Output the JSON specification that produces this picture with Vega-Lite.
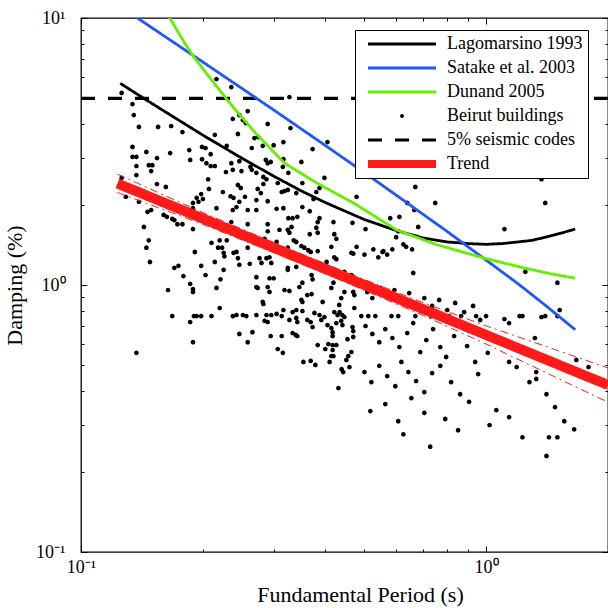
{
"$schema":"https://vega.github.io/schema/vega-lite/v6.json",
"width":527,"height":534,
"autosize":{"type":"none"},
"padding":{"left":81,"top":18,"right":0,"bottom":56},
"background":"white",
"config":{
 "view":{"stroke":"black","strokeWidth":1.3},
 "axis":{"domain":false,"grid":false,"tickColor":"black","tickWidth":1,"labelFont":"Liberation Serif","labelFontSize":18,"labelColor":"black","titleFont":"Liberation Serif","titleFontSize":22,"titleFontWeight":"normal","titleColor":"black","labelFlush":false,"labelOverlap":false},
 "legend":{"fillColor":"white","strokeColor":"black","padding":5,"labelFont":"Liberation Serif","labelFontSize":18,"labelColor":"black","symbolSize":64,"symbolStrokeWidth":3,"symbolOffset":33,"labelOffset":36,"rowPadding":6,"symbolFillColor":"black","labelLimit":400}
},
"datasets":{
 "dashed":[{"T":0.1,"D":5,"series":"5% seismic codes"},{"T":2,"D":5,"series":"5% seismic codes"}],
 "curves":[
  {"T":0.125,"D":5.69,"series":"Lagomarsino 1993"},{"T":0.14,"D":5.10,"series":"Lagomarsino 1993"},{"T":0.16,"D":4.49,"series":"Lagomarsino 1993"},{"T":0.18,"D":4.02,"series":"Lagomarsino 1993"},{"T":0.2,"D":3.64,"series":"Lagomarsino 1993"},{"T":0.25,"D":2.98,"series":"Lagomarsino 1993"},{"T":0.3,"D":2.55,"series":"Lagomarsino 1993"},{"T":0.35,"D":2.25,"series":"Lagomarsino 1993"},{"T":0.4,"D":2.04,"series":"Lagomarsino 1993"},{"T":0.5,"D":1.76,"series":"Lagomarsino 1993"},{"T":0.6,"D":1.60,"series":"Lagomarsino 1993"},{"T":0.7,"D":1.50,"series":"Lagomarsino 1993"},{"T":0.8,"D":1.45,"series":"Lagomarsino 1993"},{"T":0.9,"D":1.43,"series":"Lagomarsino 1993"},{"T":1.0,"D":1.42,"series":"Lagomarsino 1993"},{"T":1.1,"D":1.43,"series":"Lagomarsino 1993"},{"T":1.2,"D":1.45,"series":"Lagomarsino 1993"},{"T":1.3,"D":1.47,"series":"Lagomarsino 1993"},{"T":1.4,"D":1.51,"series":"Lagomarsino 1993"},{"T":1.5,"D":1.55,"series":"Lagomarsino 1993"},{"T":1.66,"D":1.62,"series":"Lagomarsino 1993"},
  {"T":0.137,"D":10.06,"series":"Satake et al. 2003"},{"T":0.15,"D":9.17,"series":"Satake et al. 2003"},{"T":0.2,"D":6.84,"series":"Satake et al. 2003"},{"T":0.25,"D":5.44,"series":"Satake et al. 2003"},{"T":0.3,"D":4.51,"series":"Satake et al. 2003"},{"T":0.4,"D":3.34,"series":"Satake et al. 2003"},{"T":0.5,"D":2.64,"series":"Satake et al. 2003"},{"T":0.6,"D":2.17,"series":"Satake et al. 2003"},{"T":0.8,"D":1.59,"series":"Satake et al. 2003"},{"T":1.0,"D":1.24,"series":"Satake et al. 2003"},{"T":1.2,"D":1.01,"series":"Satake et al. 2003"},{"T":1.4,"D":0.84,"series":"Satake et al. 2003"},{"T":1.66,"D":0.68,"series":"Satake et al. 2003"},
  {"T":0.164,"D":10.25,"series":"Dunand 2005"},{"T":0.18,"D":8.09,"series":"Dunand 2005"},{"T":0.19,"D":7.14,"series":"Dunand 2005"},{"T":0.21,"D":5.86,"series":"Dunand 2005"},{"T":0.237,"D":4.65,"series":"Dunand 2005"},{"T":0.27,"D":3.70,"series":"Dunand 2005"},{"T":0.318,"D":2.86,"series":"Dunand 2005"},{"T":0.38,"D":2.42,"series":"Dunand 2005"},{"T":0.473,"D":2.02,"series":"Dunand 2005"},{"T":0.6,"D":1.61,"series":"Dunand 2005"},{"T":0.75,"D":1.42,"series":"Dunand 2005"},{"T":0.99,"D":1.26,"series":"Dunand 2005"},{"T":1.25,"D":1.155,"series":"Dunand 2005"},{"T":1.45,"D":1.10,"series":"Dunand 2005"},{"T":1.66,"D":1.06,"series":"Dunand 2005"}
 ],
 "trend":[{"T":0.123,"D":2.40,"series":"Trend"},{"T":2.0,"D":0.422,"series":"Trend"}],
 "bands":[
  {"T":0.123,"D":2.60,"band":"upper"},{"T":0.2,"D":1.867,"band":"upper"},{"T":0.3,"D":1.440,"band":"upper"},{"T":0.45,"D":1.118,"band":"upper"},{"T":0.7,"D":0.858,"band":"upper"},{"T":1.0,"D":0.703,"band":"upper"},{"T":1.4,"D":0.590,"band":"upper"},{"T":2.0,"D":0.489,"band":"upper"},
  {"T":0.123,"D":2.22,"band":"lower"},{"T":0.2,"D":1.688,"band":"lower"},{"T":0.3,"D":1.319,"band":"lower"},{"T":0.45,"D":1.024,"band":"lower"},{"T":0.7,"D":0.768,"band":"lower"},{"T":1.0,"D":0.601,"band":"lower"},{"T":1.4,"D":0.471,"band":"lower"},{"T":2.0,"D":0.364,"band":"lower"}
 ],
 "points":[
{"T":0.126,"D":5.24,"series":"Beirut buildings"},{"T":0.134,"D":4.76,"series":"Beirut buildings"},{"T":0.135,"D":4.33,"series":"Beirut buildings"},{"T":0.139,"D":3.91,"series":"Beirut buildings"},{"T":0.155,"D":3.91,"series":"Beirut buildings"},{"T":0.167,"D":3.94,"series":"Beirut buildings"},{"T":0.178,"D":3.74,"series":"Beirut buildings"},{"T":0.214,"D":3.65,"series":"Beirut buildings"},{"T":0.237,"D":4.19,"series":"Beirut buildings"},{"T":0.134,"D":3.29,"series":"Beirut buildings"},
{"T":0.145,"D":3.15,"series":"Beirut buildings"},{"T":0.166,"D":3.12,"series":"Beirut buildings"},{"T":0.185,"D":3.20,"series":"Beirut buildings"},{"T":0.186,"D":2.94,"series":"Beirut buildings"},{"T":0.199,"D":3.29,"series":"Beirut buildings"},{"T":0.203,"D":3.26,"series":"Beirut buildings"},{"T":0.209,"D":3.09,"series":"Beirut buildings"},{"T":0.229,"D":3.32,"series":"Beirut buildings"},{"T":0.134,"D":3.02,"series":"Beirut buildings"},{"T":0.137,"D":3.02,"series":"Beirut buildings"},
{"T":0.154,"D":2.99,"series":"Beirut buildings"},{"T":0.199,"D":2.96,"series":"Beirut buildings"},{"T":0.204,"D":2.86,"series":"Beirut buildings"},{"T":0.209,"D":2.79,"series":"Beirut buildings"},{"T":0.214,"D":2.79,"series":"Beirut buildings"},{"T":0.235,"D":2.86,"series":"Beirut buildings"},{"T":0.137,"D":2.79,"series":"Beirut buildings"},{"T":0.147,"D":2.81,"series":"Beirut buildings"},{"T":0.150,"D":2.81,"series":"Beirut buildings"},{"T":0.149,"D":2.67,"series":"Beirut buildings"},
{"T":0.228,"D":2.65,"series":"Beirut buildings"},{"T":0.237,"D":2.70,"series":"Beirut buildings"},{"T":0.137,"D":2.58,"series":"Beirut buildings"},{"T":0.126,"D":2.52,"series":"Beirut buildings"},{"T":0.206,"D":2.49,"series":"Beirut buildings"},{"T":0.154,"D":2.39,"series":"Beirut buildings"},{"T":0.162,"D":2.33,"series":"Beirut buildings"},{"T":0.207,"D":2.29,"series":"Beirut buildings"},{"T":0.224,"D":2.23,"series":"Beirut buildings"},{"T":0.234,"D":2.15,"series":"Beirut buildings"},
{"T":0.238,"D":2.12,"series":"Beirut buildings"},{"T":0.198,"D":2.19,"series":"Beirut buildings"},{"T":0.193,"D":2.12,"series":"Beirut buildings"},{"T":0.200,"D":2.10,"series":"Beirut buildings"},{"T":0.195,"D":2.05,"series":"Beirut buildings"},{"T":0.129,"D":2.14,"series":"Beirut buildings"},{"T":0.139,"D":2.05,"series":"Beirut buildings"},{"T":0.189,"D":2.03,"series":"Beirut buildings"},{"T":0.146,"D":1.88,"series":"Beirut buildings"},{"T":0.149,"D":1.91,"series":"Beirut buildings"},
{"T":0.160,"D":1.83,"series":"Beirut buildings"},{"T":0.163,"D":1.80,"series":"Beirut buildings"},{"T":0.168,"D":1.77,"series":"Beirut buildings"},{"T":0.170,"D":1.75,"series":"Beirut buildings"},{"T":0.173,"D":1.69,"series":"Beirut buildings"},{"T":0.178,"D":1.69,"series":"Beirut buildings"},{"T":0.189,"D":1.94,"series":"Beirut buildings"},{"T":0.189,"D":1.62,"series":"Beirut buildings"},{"T":0.216,"D":1.94,"series":"Beirut buildings"},{"T":0.237,"D":1.91,"series":"Beirut buildings"},
{"T":0.235,"D":1.72,"series":"Beirut buildings"},{"T":0.143,"D":1.65,"series":"Beirut buildings"},{"T":0.147,"D":1.47,"series":"Beirut buildings"},{"T":0.145,"D":1.38,"series":"Beirut buildings"},{"T":0.148,"D":1.22,"series":"Beirut buildings"},{"T":0.210,"D":1.44,"series":"Beirut buildings"},{"T":0.220,"D":1.47,"series":"Beirut buildings"},{"T":0.229,"D":1.47,"series":"Beirut buildings"},{"T":0.218,"D":1.38,"series":"Beirut buildings"},{"T":0.223,"D":1.38,"series":"Beirut buildings"},
{"T":0.225,"D":1.32,"series":"Beirut buildings"},{"T":0.226,"D":1.28,"series":"Beirut buildings"},{"T":0.238,"D":1.32,"series":"Beirut buildings"},{"T":0.191,"D":1.33,"series":"Beirut buildings"},{"T":0.170,"D":1.16,"series":"Beirut buildings"},{"T":0.174,"D":1.18,"series":"Beirut buildings"},{"T":0.198,"D":1.18,"series":"Beirut buildings"},{"T":0.214,"D":1.22,"series":"Beirut buildings"},{"T":0.225,"D":1.14,"series":"Beirut buildings"},{"T":0.179,"D":1.08,"series":"Beirut buildings"},
{"T":0.203,"D":1.09,"series":"Beirut buildings"},{"T":0.221,"D":1.05,"series":"Beirut buildings"},{"T":0.186,"D":1.01,"series":"Beirut buildings"},{"T":0.189,"D":0.966,"series":"Beirut buildings"},{"T":0.189,"D":0.942,"series":"Beirut buildings"},{"T":0.164,"D":0.958,"series":"Beirut buildings"},{"T":0.216,"D":0.975,"series":"Beirut buildings"},{"T":0.220,"D":0.820,"series":"Beirut buildings"},{"T":0.168,"D":0.765,"series":"Beirut buildings"},{"T":0.190,"D":0.765,"series":"Beirut buildings"},
{"T":0.193,"D":0.765,"series":"Beirut buildings"},{"T":0.198,"D":0.765,"series":"Beirut buildings"},{"T":0.210,"D":0.765,"series":"Beirut buildings"},{"T":0.237,"D":0.765,"series":"Beirut buildings"},{"T":0.186,"D":0.727,"series":"Beirut buildings"},{"T":0.137,"D":0.557,"series":"Beirut buildings"},{"T":0.189,"D":0.611,"series":"Beirut buildings"},{"T":0.258,"D":4.48,"series":"Beirut buildings"},{"T":0.246,"D":4.33,"series":"Beirut buildings"},{"T":0.251,"D":4.15,"series":"Beirut buildings"},
{"T":0.255,"D":4.04,"series":"Beirut buildings"},{"T":0.244,"D":3.68,"series":"Beirut buildings"},{"T":0.289,"D":4.01,"series":"Beirut buildings"},{"T":0.327,"D":5.06,"series":"Beirut buildings"},{"T":0.329,"D":3.87,"series":"Beirut buildings"},{"T":0.268,"D":3.55,"series":"Beirut buildings"},{"T":0.274,"D":3.58,"series":"Beirut buildings"},{"T":0.264,"D":3.26,"series":"Beirut buildings"},{"T":0.281,"D":3.32,"series":"Beirut buildings"},{"T":0.299,"D":3.34,"series":"Beirut buildings"},
{"T":0.316,"D":3.43,"series":"Beirut buildings"},{"T":0.373,"D":3.23,"series":"Beirut buildings"},{"T":0.406,"D":3.43,"series":"Beirut buildings"},{"T":0.246,"D":2.91,"series":"Beirut buildings"},{"T":0.286,"D":2.94,"series":"Beirut buildings"},{"T":0.289,"D":2.86,"series":"Beirut buildings"},{"T":0.294,"D":2.89,"series":"Beirut buildings"},{"T":0.316,"D":2.96,"series":"Beirut buildings"},{"T":0.350,"D":2.89,"series":"Beirut buildings"},{"T":0.249,"D":2.67,"series":"Beirut buildings"},
{"T":0.264,"D":2.70,"series":"Beirut buildings"},{"T":0.262,"D":2.77,"series":"Beirut buildings"},{"T":0.271,"D":2.63,"series":"Beirut buildings"},{"T":0.282,"D":2.54,"series":"Beirut buildings"},{"T":0.287,"D":2.49,"series":"Beirut buildings"},{"T":0.315,"D":2.77,"series":"Beirut buildings"},{"T":0.325,"D":2.63,"series":"Beirut buildings"},{"T":0.399,"D":2.52,"series":"Beirut buildings"},{"T":0.306,"D":2.41,"series":"Beirut buildings"},{"T":0.282,"D":2.39,"series":"Beirut buildings"},
{"T":0.244,"D":2.37,"series":"Beirut buildings"},{"T":0.248,"D":2.31,"series":"Beirut buildings"},{"T":0.273,"D":2.29,"series":"Beirut buildings"},{"T":0.278,"D":2.21,"series":"Beirut buildings"},{"T":0.313,"D":2.23,"series":"Beirut buildings"},{"T":0.318,"D":2.25,"series":"Beirut buildings"},{"T":0.324,"D":2.27,"series":"Beirut buildings"},{"T":0.352,"D":2.41,"series":"Beirut buildings"},{"T":0.340,"D":2.21,"series":"Beirut buildings"},{"T":0.381,"D":2.23,"series":"Beirut buildings"},
{"T":0.388,"D":2.31,"series":"Beirut buildings"},{"T":0.375,"D":2.10,"series":"Beirut buildings"},{"T":0.271,"D":2.08,"series":"Beirut buildings"},{"T":0.254,"D":2.14,"series":"Beirut buildings"},{"T":0.479,"D":2.14,"series":"Beirut buildings"},{"T":0.246,"D":2.05,"series":"Beirut buildings"},{"T":0.289,"D":2.06,"series":"Beirut buildings"},{"T":0.216,"D":5.91,"series":"Beirut buildings"},{"T":0.235,"D":5.51,"series":"Beirut buildings"},{"T":0.242,"D":1.96,"series":"Beirut buildings"},
{"T":0.258,"D":1.91,"series":"Beirut buildings"},{"T":0.271,"D":1.91,"series":"Beirut buildings"},{"T":0.304,"D":1.93,"series":"Beirut buildings"},{"T":0.316,"D":1.94,"series":"Beirut buildings"},{"T":0.352,"D":1.96,"series":"Beirut buildings"},{"T":0.367,"D":1.89,"series":"Beirut buildings"},{"T":0.325,"D":1.78,"series":"Beirut buildings"},{"T":0.333,"D":1.78,"series":"Beirut buildings"},{"T":0.342,"D":1.80,"series":"Beirut buildings"},{"T":0.388,"D":1.78,"series":"Beirut buildings"},
{"T":0.384,"D":1.72,"series":"Beirut buildings"},{"T":0.420,"D":1.72,"series":"Beirut buildings"},{"T":0.468,"D":1.71,"series":"Beirut buildings"},{"T":0.289,"D":1.69,"series":"Beirut buildings"},{"T":0.258,"D":1.69,"series":"Beirut buildings"},{"T":0.289,"D":1.59,"series":"Beirut buildings"},{"T":0.309,"D":1.61,"series":"Beirut buildings"},{"T":0.324,"D":1.61,"series":"Beirut buildings"},{"T":0.331,"D":1.65,"series":"Beirut buildings"},{"T":0.327,"D":1.57,"series":"Beirut buildings"},
{"T":0.367,"D":1.55,"series":"Beirut buildings"},{"T":0.381,"D":1.64,"series":"Beirut buildings"},{"T":0.384,"D":1.57,"series":"Beirut buildings"},{"T":0.422,"D":1.55,"series":"Beirut buildings"},{"T":0.427,"D":1.49,"series":"Beirut buildings"},{"T":0.284,"D":1.49,"series":"Beirut buildings"},{"T":0.335,"D":1.47,"series":"Beirut buildings"},{"T":0.340,"D":1.45,"series":"Beirut buildings"},{"T":0.350,"D":1.40,"series":"Beirut buildings"},{"T":0.356,"D":1.38,"series":"Beirut buildings"},
{"T":0.415,"D":1.39,"series":"Beirut buildings"},{"T":0.479,"D":1.39,"series":"Beirut buildings"},{"T":0.258,"D":1.38,"series":"Beirut buildings"},{"T":0.304,"D":1.45,"series":"Beirut buildings"},{"T":0.324,"D":1.38,"series":"Beirut buildings"},{"T":0.364,"D":1.35,"series":"Beirut buildings"},{"T":0.369,"D":1.33,"series":"Beirut buildings"},{"T":0.384,"D":1.34,"series":"Beirut buildings"},{"T":0.422,"D":1.27,"series":"Beirut buildings"},{"T":0.427,"D":1.25,"series":"Beirut buildings"},
{"T":0.465,"D":1.32,"series":"Beirut buildings"},{"T":0.470,"D":1.31,"series":"Beirut buildings"},{"T":0.242,"D":1.33,"series":"Beirut buildings"},{"T":0.244,"D":1.26,"series":"Beirut buildings"},{"T":0.246,"D":1.19,"series":"Beirut buildings"},{"T":0.261,"D":1.20,"series":"Beirut buildings"},{"T":0.276,"D":1.26,"series":"Beirut buildings"},{"T":0.279,"D":1.21,"series":"Beirut buildings"},{"T":0.287,"D":1.26,"series":"Beirut buildings"},{"T":0.292,"D":1.27,"series":"Beirut buildings"},
{"T":0.295,"D":1.21,"series":"Beirut buildings"},{"T":0.324,"D":1.16,"series":"Beirut buildings"},{"T":0.324,"D":1.14,"series":"Beirut buildings"},{"T":0.340,"D":1.17,"series":"Beirut buildings"},{"T":0.371,"D":1.09,"series":"Beirut buildings"},{"T":0.373,"D":1.05,"series":"Beirut buildings"},{"T":0.404,"D":1.22,"series":"Beirut buildings"},{"T":0.406,"D":1.17,"series":"Beirut buildings"},{"T":0.447,"D":1.12,"series":"Beirut buildings"},{"T":0.465,"D":1.09,"series":"Beirut buildings"},
{"T":0.468,"D":1.08,"series":"Beirut buildings"},{"T":0.271,"D":1.07,"series":"Beirut buildings"},{"T":0.292,"D":1.06,"series":"Beirut buildings"},{"T":0.299,"D":1.06,"series":"Beirut buildings"},{"T":0.352,"D":1.02,"series":"Beirut buildings"},{"T":0.346,"D":0.983,"series":"Beirut buildings"},{"T":0.271,"D":0.983,"series":"Beirut buildings"},{"T":0.273,"D":0.975,"series":"Beirut buildings"},{"T":0.289,"D":0.983,"series":"Beirut buildings"},{"T":0.292,"D":0.942,"series":"Beirut buildings"},
{"T":0.318,"D":0.958,"series":"Beirut buildings"},{"T":0.327,"D":0.950,"series":"Beirut buildings"},{"T":0.362,"D":0.917,"series":"Beirut buildings"},{"T":0.371,"D":0.925,"series":"Beirut buildings"},{"T":0.420,"D":1.02,"series":"Beirut buildings"},{"T":0.415,"D":0.975,"series":"Beirut buildings"},{"T":0.470,"D":0.942,"series":"Beirut buildings"},{"T":0.473,"D":0.917,"series":"Beirut buildings"},{"T":0.447,"D":0.942,"series":"Beirut buildings"},{"T":0.281,"D":0.864,"series":"Beirut buildings"},
{"T":0.282,"D":0.849,"series":"Beirut buildings"},{"T":0.350,"D":0.879,"series":"Beirut buildings"},{"T":0.352,"D":0.864,"series":"Beirut buildings"},{"T":0.395,"D":0.864,"series":"Beirut buildings"},{"T":0.439,"D":0.894,"series":"Beirut buildings"},{"T":0.434,"D":0.842,"series":"Beirut buildings"},{"T":0.251,"D":0.772,"series":"Beirut buildings"},{"T":0.256,"D":0.765,"series":"Beirut buildings"},{"T":0.271,"D":0.772,"series":"Beirut buildings"},{"T":0.242,"D":0.772,"series":"Beirut buildings"},
{"T":0.287,"D":0.772,"series":"Beirut buildings"},{"T":0.295,"D":0.772,"series":"Beirut buildings"},{"T":0.304,"D":0.779,"series":"Beirut buildings"},{"T":0.313,"D":0.765,"series":"Beirut buildings"},{"T":0.316,"D":0.806,"series":"Beirut buildings"},{"T":0.333,"D":0.792,"series":"Beirut buildings"},{"T":0.340,"D":0.806,"series":"Beirut buildings"},{"T":0.352,"D":0.799,"series":"Beirut buildings"},{"T":0.377,"D":0.786,"series":"Beirut buildings"},{"T":0.388,"D":0.772,"series":"Beirut buildings"},
{"T":0.399,"D":0.759,"series":"Beirut buildings"},{"T":0.422,"D":0.792,"series":"Beirut buildings"},{"T":0.430,"D":0.772,"series":"Beirut buildings"},{"T":0.435,"D":0.792,"series":"Beirut buildings"},{"T":0.442,"D":0.772,"series":"Beirut buildings"},{"T":0.447,"D":0.759,"series":"Beirut buildings"},{"T":0.473,"D":0.820,"series":"Beirut buildings"},{"T":0.284,"D":0.734,"series":"Beirut buildings"},{"T":0.289,"D":0.727,"series":"Beirut buildings"},{"T":0.327,"D":0.740,"series":"Beirut buildings"},
{"T":0.340,"D":0.753,"series":"Beirut buildings"},{"T":0.342,"D":0.727,"series":"Beirut buildings"},{"T":0.362,"D":0.740,"series":"Beirut buildings"},{"T":0.369,"D":0.727,"series":"Beirut buildings"},{"T":0.392,"D":0.740,"series":"Beirut buildings"},{"T":0.373,"D":0.696,"series":"Beirut buildings"},{"T":0.406,"D":0.708,"series":"Beirut buildings"},{"T":0.415,"D":0.690,"series":"Beirut buildings"},{"T":0.427,"D":0.720,"series":"Beirut buildings"},{"T":0.439,"D":0.734,"series":"Beirut buildings"},
{"T":0.442,"D":0.708,"series":"Beirut buildings"},{"T":0.468,"D":0.696,"series":"Beirut buildings"},{"T":0.246,"D":0.656,"series":"Beirut buildings"},{"T":0.258,"D":0.611,"series":"Beirut buildings"},{"T":0.265,"D":0.666,"series":"Beirut buildings"},{"T":0.294,"D":0.644,"series":"Beirut buildings"},{"T":0.313,"D":0.644,"series":"Beirut buildings"},{"T":0.333,"D":0.661,"series":"Beirut buildings"},{"T":0.339,"D":0.650,"series":"Beirut buildings"},{"T":0.342,"D":0.644,"series":"Beirut buildings"},
{"T":0.306,"D":0.576,"series":"Beirut buildings"},{"T":0.315,"D":0.557,"series":"Beirut buildings"},{"T":0.354,"D":0.515,"series":"Beirut buildings"},{"T":0.369,"D":0.520,"series":"Beirut buildings"},{"T":0.379,"D":0.502,"series":"Beirut buildings"},{"T":0.384,"D":0.596,"series":"Beirut buildings"},{"T":0.401,"D":0.576,"series":"Beirut buildings"},{"T":0.408,"D":0.601,"series":"Beirut buildings"},{"T":0.418,"D":0.596,"series":"Beirut buildings"},{"T":0.427,"D":0.596,"series":"Beirut buildings"},
{"T":0.418,"D":0.666,"series":"Beirut buildings"},{"T":0.418,"D":0.644,"series":"Beirut buildings"},{"T":0.418,"D":0.571,"series":"Beirut buildings"},{"T":0.415,"D":0.542,"series":"Beirut buildings"},{"T":0.420,"D":0.542,"series":"Beirut buildings"},{"T":0.411,"D":0.515,"series":"Beirut buildings"},{"T":0.432,"D":0.411,"series":"Beirut buildings"},{"T":0.440,"D":0.484,"series":"Beirut buildings"},{"T":0.444,"D":0.472,"series":"Beirut buildings"},{"T":0.452,"D":0.524,"series":"Beirut buildings"},
{"T":0.457,"D":0.542,"series":"Beirut buildings"},{"T":0.465,"D":0.561,"series":"Beirut buildings"},{"T":0.460,"D":0.493,"series":"Beirut buildings"},{"T":0.455,"D":0.627,"series":"Beirut buildings"},{"T":0.470,"D":0.639,"series":"Beirut buildings"},{"T":0.470,"D":0.672,"series":"Beirut buildings"},{"T":0.669,"D":2.33,"series":"Beirut buildings"},{"T":0.639,"D":2.03,"series":"Beirut buildings"},{"T":0.749,"D":2.03,"series":"Beirut buildings"},{"T":0.665,"D":1.91,"series":"Beirut buildings"},
{"T":0.580,"D":1.78,"series":"Beirut buildings"},{"T":0.611,"D":1.80,"series":"Beirut buildings"},{"T":0.504,"D":1.62,"series":"Beirut buildings"},{"T":0.680,"D":1.65,"series":"Beirut buildings"},{"T":0.607,"D":1.59,"series":"Beirut buildings"},{"T":0.600,"D":1.51,"series":"Beirut buildings"},{"T":0.625,"D":1.42,"series":"Beirut buildings"},{"T":0.635,"D":1.39,"series":"Beirut buildings"},{"T":0.657,"D":1.36,"series":"Beirut buildings"},{"T":0.527,"D":1.36,"series":"Beirut buildings"},
{"T":0.555,"D":1.33,"series":"Beirut buildings"},{"T":0.558,"D":1.34,"series":"Beirut buildings"},{"T":0.587,"D":1.36,"series":"Beirut buildings"},{"T":0.501,"D":1.30,"series":"Beirut buildings"},{"T":0.542,"D":1.27,"series":"Beirut buildings"},{"T":0.570,"D":1.30,"series":"Beirut buildings"},{"T":0.661,"D":1.11,"series":"Beirut buildings"},{"T":1.37,"D":2.49,"series":"Beirut buildings"},{"T":1.40,"D":2.03,"series":"Beirut buildings"},{"T":1.11,"D":1.62,"series":"Beirut buildings"},
{"T":1.25,"D":1.12,"series":"Beirut buildings"},{"T":1.50,"D":1.02,"series":"Beirut buildings"},{"T":1.52,"D":0.806,"series":"Beirut buildings"},{"T":1.50,"D":0.765,"series":"Beirut buildings"},{"T":1.00,"D":0.765,"series":"Beirut buildings"},{"T":1.11,"D":0.746,"series":"Beirut buildings"},{"T":1.14,"D":0.720,"series":"Beirut buildings"},{"T":1.21,"D":0.765,"series":"Beirut buildings"},{"T":1.23,"D":0.765,"series":"Beirut buildings"},{"T":1.37,"D":0.759,"series":"Beirut buildings"},
{"T":1.40,"D":0.765,"series":"Beirut buildings"},{"T":1.32,"D":0.633,"series":"Beirut buildings"},{"T":1.01,"D":0.557,"series":"Beirut buildings"},{"T":1.08,"D":0.611,"series":"Beirut buildings"},{"T":1.14,"D":0.515,"series":"Beirut buildings"},{"T":1.19,"D":0.493,"series":"Beirut buildings"},{"T":1.33,"D":0.472,"series":"Beirut buildings"},{"T":1.33,"D":0.445,"series":"Beirut buildings"},{"T":1.28,"D":0.433,"series":"Beirut buildings"},{"T":1.67,"D":0.524,"series":"Beirut buildings"},
{"T":1.79,"D":0.493,"series":"Beirut buildings"},{"T":1.41,"D":0.390,"series":"Beirut buildings"},{"T":1.48,"D":0.349,"series":"Beirut buildings"},{"T":1.06,"D":0.340,"series":"Beirut buildings"},{"T":1.14,"D":0.320,"series":"Beirut buildings"},{"T":1.02,"D":0.299,"series":"Beirut buildings"},{"T":1.56,"D":0.309,"series":"Beirut buildings"},{"T":1.65,"D":0.288,"series":"Beirut buildings"},{"T":1.23,"D":0.269,"series":"Beirut buildings"},{"T":1.43,"D":0.269,"series":"Beirut buildings"},
{"T":1.50,"D":0.269,"series":"Beirut buildings"},{"T":0.492,"D":1.00,"series":"Beirut buildings"},{"T":0.509,"D":0.942,"series":"Beirut buildings"},{"T":0.524,"D":0.894,"series":"Beirut buildings"},{"T":0.548,"D":0.975,"series":"Beirut buildings"},{"T":0.570,"D":0.909,"series":"Beirut buildings"},{"T":0.594,"D":0.958,"series":"Beirut buildings"},{"T":0.614,"D":0.879,"series":"Beirut buildings"},{"T":0.646,"D":0.933,"series":"Beirut buildings"},{"T":0.676,"D":0.842,"series":"Beirut buildings"},
{"T":0.704,"D":0.894,"series":"Beirut buildings"},{"T":0.736,"D":0.835,"series":"Beirut buildings"},{"T":0.766,"D":0.879,"series":"Beirut buildings"},{"T":0.802,"D":0.806,"series":"Beirut buildings"},{"T":0.839,"D":0.857,"series":"Beirut buildings"},{"T":0.883,"D":0.792,"series":"Beirut buildings"},{"T":0.929,"D":0.835,"series":"Beirut buildings"},{"T":0.967,"D":0.740,"series":"Beirut buildings"},{"T":0.492,"D":0.765,"series":"Beirut buildings"},{"T":0.512,"D":0.765,"series":"Beirut buildings"},
{"T":0.533,"D":0.765,"series":"Beirut buildings"},{"T":0.584,"D":0.765,"series":"Beirut buildings"},{"T":0.607,"D":0.765,"series":"Beirut buildings"},{"T":0.669,"D":0.765,"series":"Beirut buildings"},{"T":0.732,"D":0.765,"series":"Beirut buildings"},{"T":0.811,"D":0.765,"series":"Beirut buildings"},{"T":0.868,"D":0.765,"series":"Beirut buildings"},{"T":0.945,"D":0.765,"series":"Beirut buildings"},{"T":0.504,"D":0.702,"series":"Beirut buildings"},{"T":0.524,"D":0.656,"series":"Beirut buildings"},
{"T":0.545,"D":0.611,"series":"Beirut buildings"},{"T":0.564,"D":0.684,"series":"Beirut buildings"},{"T":0.587,"D":0.633,"series":"Beirut buildings"},{"T":0.611,"D":0.586,"series":"Beirut buildings"},{"T":0.639,"D":0.661,"series":"Beirut buildings"},{"T":0.661,"D":0.720,"series":"Beirut buildings"},{"T":0.688,"D":0.561,"series":"Beirut buildings"},{"T":0.712,"D":0.622,"series":"Beirut buildings"},{"T":0.740,"D":0.684,"series":"Beirut buildings"},{"T":0.771,"D":0.586,"series":"Beirut buildings"},
{"T":0.797,"D":0.538,"series":"Beirut buildings"},{"T":0.834,"D":0.644,"series":"Beirut buildings"},{"T":0.868,"D":0.702,"series":"Beirut buildings"},{"T":0.898,"D":0.591,"series":"Beirut buildings"},{"T":0.940,"D":0.515,"series":"Beirut buildings"},{"T":0.501,"D":0.472,"series":"Beirut buildings"},{"T":0.521,"D":0.433,"series":"Beirut buildings"},{"T":0.545,"D":0.498,"series":"Beirut buildings"},{"T":0.570,"D":0.456,"series":"Beirut buildings"},{"T":0.597,"D":0.418,"series":"Beirut buildings"},
{"T":0.618,"D":0.515,"series":"Beirut buildings"},{"T":0.643,"D":0.472,"series":"Beirut buildings"},{"T":0.672,"D":0.437,"series":"Beirut buildings"},{"T":0.704,"D":0.397,"series":"Beirut buildings"},{"T":0.736,"D":0.468,"series":"Beirut buildings"},{"T":0.771,"D":0.498,"series":"Beirut buildings"},{"T":0.820,"D":0.433,"series":"Beirut buildings"},{"T":0.863,"D":0.390,"series":"Beirut buildings"},{"T":0.908,"D":0.365,"series":"Beirut buildings"},{"T":0.956,"D":0.464,"series":"Beirut buildings"},
{"T":0.518,"D":0.337,"series":"Beirut buildings"},{"T":0.564,"D":0.358,"series":"Beirut buildings"},{"T":0.607,"D":0.309,"series":"Beirut buildings"},{"T":0.654,"D":0.377,"series":"Beirut buildings"},{"T":0.704,"D":0.332,"series":"Beirut buildings"},{"T":0.793,"D":0.315,"series":"Beirut buildings"},{"T":0.853,"D":0.286,"series":"Beirut buildings"},{"T":0.625,"D":0.276,"series":"Beirut buildings"},{"T":0.728,"D":0.248,"series":"Beirut buildings"},{"T":1.41,"D":0.229,"series":"Beirut buildings"}
 ]
},
"resolve":{"axis":{"x":"independent","y":"independent"}},
"layer":[
 {"data":{"name":"dashed"},
  "mark":{"type":"line","strokeWidth":3.3,"clip":true},
  "encoding":{
   "x":{"field":"T","type":"quantitative","scale":{"type":"log","domain":[0.1,2],"nice":false},"axis":{"orient":"top","values":[0.1,1],"tickSize":-6,"labels":false,"title":null}},
   "y":{"field":"D","type":"quantitative","scale":{"type":"log","domain":[0.1,10],"nice":false},"axis":{"orient":"right","values":[0.1,1,10],"tickSize":-6,"labels":false,"title":null}},
   "color":{"field":"series","type":"nominal","title":null,"scale":{"domain":["Lagomarsino 1993","Satake et al. 2003","Dunand 2005","Beirut buildings","5% seismic codes","Trend"],"range":["#000000","#2155ff","#66ee00","#000000","#000000","#ff1a1a"]},"legend":{"orient":"none","legendX":274,"legendY":12,"direction":"vertical","zindex":2,"labelExpr":"datum.label + '\u00a0\u00a0\u00a0'"}},
   "strokeDash":{"field":"series","type":"nominal","title":null,"scale":{"domain":["Lagomarsino 1993","Satake et al. 2003","Dunand 2005","Beirut buildings","5% seismic codes","Trend"],"range":[[1,0],[1,0],[1,0],[1,0],[14,13],[1,0]]},"legend":{"orient":"none","legendX":274,"legendY":12,"direction":"vertical","zindex":2,"labelExpr":"datum.label + '\u00a0\u00a0\u00a0'"}}
  }},
 {"data":{"name":"points"},
  "mark":{"type":"point","filled":true,"size":1400,"opacity":1,"strokeWidth":0},
  "encoding":{
   "x":{"field":"T","type":"quantitative","scale":{"type":"log","domain":[0.1,2],"nice":false},"axis":{"orient":"bottom","values":[0.1,1],"tickSize":-6,"labelPadding":12,"labelBaseline":"top","labelExpr":"datum.value < 0.5 ? '10\u207b\u00b9' : '10\u2070'","title":"Fundamental Period (s)","titleX":279,"titleY":49,"titleBaseline":"alphabetic"}},
   "y":{"field":"D","type":"quantitative","scale":{"type":"log","domain":[0.1,10],"nice":false},"axis":{"orient":"left","values":[0.1,1,10],"tickSize":-6,"labelPadding":22,"labelExpr":"datum.value < 0.5 ? '10\u207b\u00b9' : datum.value < 5 ? '10\u2070' : '10\u00b9'","title":"Damping (%)","titleX":-60,"titleY":267,"titleBaseline":"alphabetic","titleAngle":270}},
   "color":{"field":"series","type":"nominal","title":null,"scale":{"domain":["Lagomarsino 1993","Satake et al. 2003","Dunand 2005","Beirut buildings","5% seismic codes","Trend"],"range":["#000000","#2155ff","#66ee00","#000000","#000000","#ff1a1a"]},"legend":{"orient":"none","legendX":274,"legendY":12,"direction":"vertical","zindex":2,"labelExpr":"datum.label + '\u00a0\u00a0\u00a0'"}},
   "shape":{"field":"series","type":"nominal","title":null,"scale":{"domain":["Lagomarsino 1993","Satake et al. 2003","Dunand 2005","Beirut buildings","5% seismic codes","Trend"],"range":["M-8.5,0H8.5","M-8.5,0H8.5","M-8.5,0H8.5","M-0.125,0A0.125,0.125,0,1,1,0.125,0A0.125,0.125,0,1,1,-0.125,0ZM-0.3,0H0.3M0,-0.15V0.15","M-8.5,0H8.5","M-8.5,-0.625H8.5M-8.5,-0.208H8.5M-8.5,0.208H8.5M-8.5,0.625H8.5"]},"legend":{"orient":"none","legendX":274,"legendY":12,"direction":"vertical","zindex":2,"labelExpr":"datum.label + '\u00a0\u00a0\u00a0'"}}
  }},
 {"data":{"name":"bands"},
  "mark":{"type":"line","color":"#ff1a1a","strokeWidth":1,"strokeDash":[8,4,2,4],"clip":true},
  "encoding":{
   "x":{"field":"T","type":"quantitative","scale":{"type":"log","domain":[0.1,2],"nice":false},"axis":{"orient":"bottom","values":[0.2,0.3,0.4,0.5,0.6,0.7,0.8,0.9,2],"tickSize":-3,"labels":false,"title":null}},
   "y":{"field":"D","type":"quantitative","scale":{"type":"log","domain":[0.1,10],"nice":false},"axis":{"orient":"left","values":[0.2,0.3,0.4,0.5,0.6,0.7,0.8,0.9,2,3,4,5,6,7,8,9],"tickSize":-3,"labels":false,"title":null}},
   "detail":{"field":"band","type":"nominal"}
  }},
 {"data":{"name":"curves"},
  "mark":{"type":"line","strokeWidth":2.8,"clip":true},
  "encoding":{
   "x":{"field":"T","type":"quantitative","scale":{"type":"log","domain":[0.1,2],"nice":false},"axis":{"orient":"top","values":[0.2,0.3,0.4,0.5,0.6,0.7,0.8,0.9,2],"tickSize":-3,"labels":false,"title":null}},
   "y":{"field":"D","type":"quantitative","scale":{"type":"log","domain":[0.1,10],"nice":false},"axis":{"orient":"right","values":[0.2,0.3,0.4,0.5,0.6,0.7,0.8,0.9,2,3,4,5,6,7,8,9],"tickSize":-3,"labels":false,"title":null}},
   "color":{"field":"series","type":"nominal","title":null,"scale":{"domain":["Lagomarsino 1993","Satake et al. 2003","Dunand 2005","Beirut buildings","5% seismic codes","Trend"],"range":["#000000","#2155ff","#66ee00","#000000","#000000","#ff1a1a"]},"legend":{"orient":"none","legendX":274,"legendY":12,"direction":"vertical","zindex":2,"labelExpr":"datum.label + '\u00a0\u00a0\u00a0'"}},
   "strokeDash":{"field":"series","type":"nominal","title":null,"scale":{"domain":["Lagomarsino 1993","Satake et al. 2003","Dunand 2005","Beirut buildings","5% seismic codes","Trend"],"range":[[1,0],[1,0],[1,0],[1,0],[14,13],[1,0]]},"legend":{"orient":"none","legendX":274,"legendY":12,"direction":"vertical","zindex":2,"labelExpr":"datum.label + '\u00a0\u00a0\u00a0'"}}
  }},
 {"data":{"name":"trend"},
  "mark":{"type":"line","strokeWidth":10,"clip":true},
  "encoding":{
   "x":{"field":"T","type":"quantitative","scale":{"type":"log","domain":[0.1,2],"nice":false},"axis":null},
   "y":{"field":"D","type":"quantitative","scale":{"type":"log","domain":[0.1,10],"nice":false},"axis":null},
   "color":{"field":"series","type":"nominal","title":null,"scale":{"domain":["Lagomarsino 1993","Satake et al. 2003","Dunand 2005","Beirut buildings","5% seismic codes","Trend"],"range":["#000000","#2155ff","#66ee00","#000000","#000000","#ff1a1a"]},"legend":{"orient":"none","legendX":274,"legendY":12,"direction":"vertical","zindex":2,"labelExpr":"datum.label + '\u00a0\u00a0\u00a0'"}},
   "strokeDash":{"field":"series","type":"nominal","title":null,"scale":{"domain":["Lagomarsino 1993","Satake et al. 2003","Dunand 2005","Beirut buildings","5% seismic codes","Trend"],"range":[[1,0],[1,0],[1,0],[1,0],[14,13],[1,0]]},"legend":{"orient":"none","legendX":274,"legendY":12,"direction":"vertical","zindex":2,"labelExpr":"datum.label + '\u00a0\u00a0\u00a0'"}}
  }}
]
}
